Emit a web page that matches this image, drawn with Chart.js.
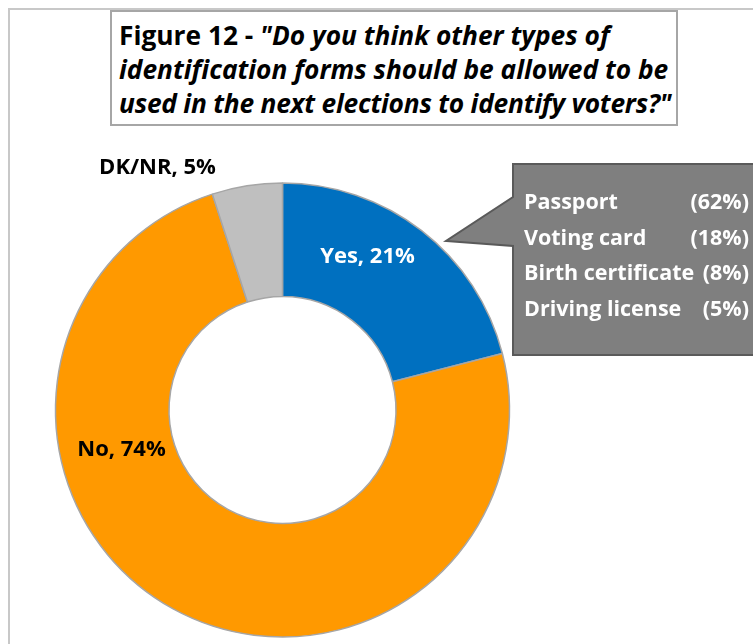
<!DOCTYPE html>
<html>
<head>
<meta charset="utf-8">
<script src="https://cdn.jsdelivr.net/npm/chart.js@4.4.0/dist/chart.umd.min.js"></script>
<style>
  html, body { margin: 0; padding: 0; background: #fff; }
  #wrap { position: relative; width: 753px; height: 644px; overflow: hidden; font-family: "Open Sans", Lato, sans-serif; }
  #wrap canvas { position: absolute; left: 0; top: 0; }
  .title-box {
    position: absolute; left: 110px; top: 10px; width: 568px; height: 116px;
    box-sizing: border-box; border: 2px solid #A6A6A6; background: #fff;
    padding: 6px 0 0 7px; font-size: 26.3px; line-height: 34px; font-weight: bold; color: #000;
    white-space: nowrap;
  }
  .title-box i { font-style: italic; }
  .title-box .tight { letter-spacing: -0.22px; }
  .callout-text {
    position: absolute; left: 524px; top: 183px; width: 225px;
    color: #fff; font-weight: bold; font-size: 21.5px; line-height: 35.5px;
  }
  .callout-text div { display: flex; justify-content: space-between; white-space: nowrap; }
</style>
</head>
<body>
<div id="wrap">
  <canvas id="donut"></canvas>
  <div class="title-box">Figure 12 - <i>"Do you think other types of<br>identification forms should be allowed to be<br><span class="tight">used in the next elections to identify voters?"</span></i></div>
  <div class="callout-text" id="callout"></div>
</div>
<script>
// answers to the question
const answers = ["Yes", "No", "DK/NR"];
const shares = [21, 74, 5];
const sliceColors = ["#0070C0", "#FF9900", "#BFBFBF"];

// breakdown of the "Yes" answers
const idForms = ["Passport", "Voting card", "Birth certificate", "Driving license"];
const idShares = [62, 18, 8, 5];

// label anchors, offset from the doughnut centre
const labelOffsets = [[85, -153], [-161, 40], [-125, -242]];
const labelColors = ["#fff", "#000", "#000"];

const callout = document.getElementById("callout");
idForms.forEach((name, i) => {
  const row = document.createElement("div");
  row.innerHTML = `<span>${name}</span><span>(${idShares[i]}%)</span>`;
  callout.appendChild(row);
});

const decorPlugin = {
  id: "decor",
  beforeDraw(chart) {
    const ctx = chart.ctx;
    ctx.save();
    // outer frame
    ctx.strokeStyle = "#C8C8C8";
    ctx.lineWidth = 2;
    ctx.strokeRect(9, 9, 900, 900);
    ctx.restore();
  },
  afterDraw(chart) {
    const ctx = chart.ctx;
    ctx.save();
    // callout bubble with pointer
    ctx.beginPath();
    ctx.moveTo(513, 164);
    ctx.lineTo(780, 164);
    ctx.lineTo(780, 355);
    ctx.lineTo(513, 355);
    ctx.lineTo(513, 246);
    ctx.lineTo(446, 241);
    ctx.lineTo(513, 197);
    ctx.closePath();
    ctx.fillStyle = "#7F7F7F";
    ctx.fill();
    ctx.strokeStyle = "#5A5A5A";
    ctx.lineWidth = 2;
    ctx.stroke();

    // slice labels
    const arc = chart.getDatasetMeta(0).data[0];
    ctx.font = "bold 22px 'Open Sans', Lato, sans-serif";
    ctx.textAlign = "center";
    ctx.textBaseline = "middle";
    answers.forEach((name, i) => {
      ctx.fillStyle = labelColors[i];
      ctx.fillText(`${name}, ${shares[i]}%`, arc.x + labelOffsets[i][0], arc.y + labelOffsets[i][1]);
    });
    ctx.restore();
  }
};

new Chart(document.getElementById("donut"), {
  type: "doughnut",
  data: {
    labels: answers,
    datasets: [{
      data: shares,
      backgroundColor: sliceColors,
      borderColor: "#A6A6A6",
      borderWidth: 1.5,
      hoverBorderWidth: 1.5
    }]
  },
  options: {
    responsive: true,
    maintainAspectRatio: false,
    animation: false,
    radius: 227,
    cutout: "50%",
    layout: { padding: { left: 52, right: 240, top: 180, bottom: 4 } },
    plugins: {
      legend: { display: false },
      title: { display: false },
      tooltip: { enabled: false }
    }
  },
  plugins: [decorPlugin]
});
</script>
</body>
</html>
